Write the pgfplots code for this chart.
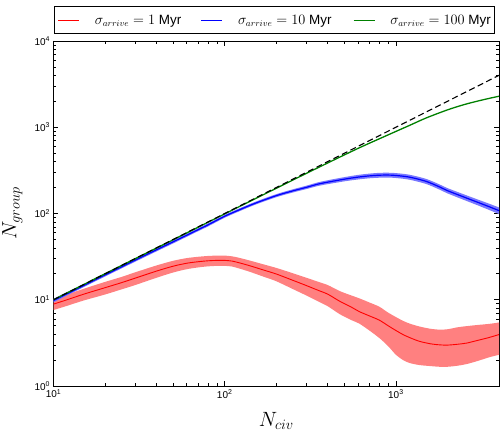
\documentclass[border=0pt]{standalone}
\usepackage[no-math]{fontspec}
\setmainfont{Liberation Sans}
\usepackage{pgfplots}
\usepackage{pgfplotstable}
\pgfplotsset{compat=1.18}
\usepgfplotslibrary{fillbetween}

\definecolor{mplgreen}{RGB}{0,128,0}
\definecolor{bandred}{RGB}{255,128,128}
\definecolor{bandblue}{RGB}{120,120,255}

% sigma_arrive = 1 Myr : mean and spread of the group count
\pgfplotstableread{
x     y     lo    hi
10    8.9   7.6   10.2
12    10.0  8.5   11.5
15    11.6  9.8   13.4
20    13.8  11.5  16.1
25    15.8  13.2  18.4
30    17.8  14.8  20.8
40    21.5  18.0  25.0
50    24.5  20.7  28.3
60    26.5  22.6  30.4
70    27.6  23.7  31.5
80    28.3  24.4  32.2
90    28.6  24.7  32.5
100   28.6  24.7  32.5
110   28.1  24.3  31.9
120   27.0  23.2  30.8
140   24.8  21.1  28.5
170   22.0  18.4  25.6
200   19.9  16.4  23.4
250   16.8  13.3  20.3
300   14.6  11.2  18.0
350   12.9  9.6   16.2
400   11.6  8.4   14.8
470   9.6   6.8   12.6
550   8.2   5.8   11.2
610   7.3   5.3   10.4
700   6.5   4.4   9.3
800   5.8   3.6   8.3
900   5.0   2.9   7.1
1000  4.4   2.3   6.3
1100  3.95  2.0   5.7
1200  3.65  1.85  5.3
1370  3.3   1.75  4.9
1600  3.08  1.7   4.6
1800  3.0   1.67  4.5
2000  2.98  1.67  4.55
2300  3.05  1.72  4.8
2600  3.15  1.8   4.95
3000  3.38  1.95  5.1
3500  3.65  2.15  5.25
4000  3.95  2.3   5.45
}\redtab

% sigma_arrive = 10 Myr
\pgfplotstableread{
x     y     lo     hi
10    9.8   9.35   10.25
15    14.6  14.0   15.2
20    19.4  18.6   20.2
30    28.8  27.6   30.0
40    38.0  36.4   39.6
50    47.0  45.0   49.0
60    56    53.7   58.3
70    65    62.4   67.6
80    74    71.0   77.0
100   93    89.4   96.6
120   109   104.8  113.2
150   131   126    136
200   161   154.5  167.5
250   183   175.2  190.8
300   201   192    210
350   219   208.5  229.5
400   231   219    243
500   250   236    264
600   264   248    280
700   273   256    290
800   278   260    296
900   279   261    297
1000  276   258    294
1200  264   246.5  281.5
1500  236   220    252
1800  203   189    217
2000  184   171    197
2500  155   143.5  166.5
3000  135   124.5  145.5
3500  120   110    130
4000  108   98.5   117.5
}\bluetab

% sigma_arrive = 100 Myr
\pgfplotstableread{
x     y
10    10
20    20
30    29.9
50    49.6
100   99
200   196
300   292
400   386
500   478
600   568
700   653
800   735
1000  895
1200  1050
1500  1280
2000  1590
2500  1830
3000  2010
3500  2160
4000  2290
}\greentab

\begin{document}
\begin{tikzpicture}
\begin{axis}[
  scale only axis,
  width=445.5bp, height=345bp,
  xmode=log, ymode=log,
  xmin=10, xmax=4000, ymin=1, ymax=10000,
  xtick={10,100,1000},
  xticklabels={10\textsuperscript{1},10\textsuperscript{2},10\textsuperscript{3}},
  ytick={1,10,100,1000,10000},
  yticklabels={10\textsuperscript{0},10\textsuperscript{1},10\textsuperscript{2},10\textsuperscript{3},10\textsuperscript{4}},
  tick label style={font=\fontsize{10}{12}\selectfont},
  axis line style={line width=0.8bp},
  tick style={black, line width=0.6bp},
  major tick length=5bp, minor tick length=2.8bp,
  every axis x label/.style={at={([yshift=-40bp]axis description cs:0.5,0)}, anchor=base},
  every axis y label/.style={at={([xshift=-37bp]axis description cs:0,0.5)}, rotate=90, anchor=base},
  label style={font=\fontsize{20}{24}\selectfont},
  xlabel={$N_{civ}$},
  ylabel={$N_{group}$},
  legend columns=3,
  legend cell align=left,
  legend image code/.code={\draw[#1] (0bp,0bp) -- (21bp,0bp);},
  legend style={at={(0,1)}, anchor=south west, yshift=7bp,
    draw=black, line width=0.8bp, inner xsep=4bp, inner ysep=6bp,
    nodes={inner xsep=0pt},
    font=\fontsize{13.5}{15}\selectfont,
    /tikz/every odd column/.append style={column sep=15bp},
    /tikz/every even column/.append style={column sep=6bp}},
]
\coordinate (SW) at (rel axis cs:0,0);
\coordinate (NE) at (rel axis cs:1,1);

% 1 Myr: spread band, then mean
\addplot[name path=rhi, draw=none, smooth, forget plot] table[x=x, y=hi] {\redtab};
\addplot[name path=rlo, draw=none, smooth, forget plot] table[x=x, y=lo] {\redtab};
\addplot[bandred, forget plot] fill between[of=rhi and rlo];
\addplot[red, line width=0.9bp, smooth, forget plot] table[x=x, y=y] {\redtab};

% 10 Myr
\addplot[name path=bhi, draw=none, smooth, forget plot] table[x=x, y=hi] {\bluetab};
\addplot[name path=blo, draw=none, smooth, forget plot] table[x=x, y=lo] {\bluetab};
\addplot[bandblue, forget plot] fill between[of=bhi and blo];
\addplot[blue, line width=1.2bp, smooth, forget plot] table[x=x, y=y] {\bluetab};

% 100 Myr
\addplot[mplgreen, line width=1.3bp, smooth, forget plot] table[x=x, y=y] {\greentab};

% one group per civilisation
\addplot[black, line width=1.1bp, dash pattern=on 6bp off 3.5bp, forget plot]
  coordinates {(10,10) (4000,4000)};

\addlegendimage{red, line width=0.9bp}
\addlegendentry{\makebox[100bp][l]{$\sigma_{arrive}=1$ Myr}}
\addlegendimage{blue, line width=1.2bp}
\addlegendentry{\makebox[109bp][l]{$\sigma_{arrive}=10$ Myr}}
\addlegendimage{mplgreen, line width=1.3bp}
\addlegendentry{\makebox[100bp][l]{$\sigma_{arrive}=100$ Myr}}
\end{axis}
\pgfresetboundingbox
\path ([shift={(-53.5bp,-46bp)}]SW) rectangle ([shift={(5bp,41bp)}]NE);
\end{tikzpicture}
\end{document}
